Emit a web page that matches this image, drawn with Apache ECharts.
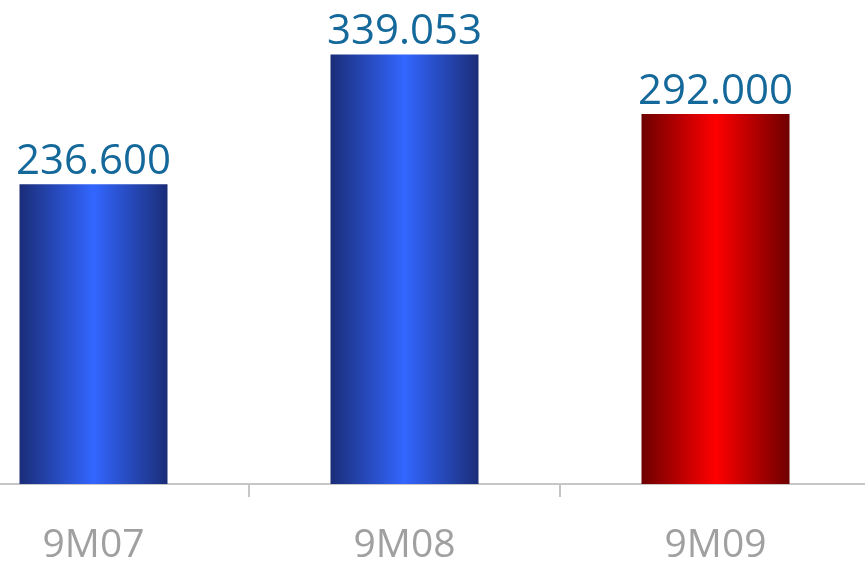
<!DOCTYPE html>
<html>
<head>
<meta charset="utf-8">
<style>
  html, body { margin: 0; padding: 0; background: #ffffff; overflow: hidden; }
  body { width: 865px; height: 565px; position: relative; }
  /* The plot band extends a little past both page edges */
  #chart { position: absolute; left: -62px; top: 0; width: 933px; height: 565px; }
</style>
<script src="https://cdn.jsdelivr.net/npm/echarts@6/dist/echarts.min.js"></script>
</head>
<body>
<div id="chart"></div>
<script>
// Nine-month totals by period
const categories = ['9M07', '9M08', '9M09'];
const values = [236.6, 339.053, 292.0];
const valueLabels = ['236.600', '339.053', '292.000'];

// Horizontal cylinder-like shading for each bar
function shade(edge, mid) {
  return new echarts.graphic.LinearGradient(0, 0, 1, 0, [
    { offset: 0, color: edge },
    { offset: 0.5, color: mid },
    { offset: 1, color: edge }
  ]);
}
const barStyles = [
  shade('#1a2d78', '#3366ff'),
  shade('#1a2d78', '#3366ff'),
  shade('#6e0000', '#ff0000')
];

const chart = echarts.init(document.getElementById('chart'), null, { renderer: 'canvas' });
chart.setOption({
  animation: false,
  backgroundColor: '#ffffff',
  grid: { left: 0, right: 0, top: 0, bottom: 79.5, containLabel: false },
  xAxis: {
    type: 'category',
    data: categories,
    axisLine: { show: true, lineStyle: { color: '#c6c6c6', width: 2 } },
    axisTick: { show: true, length: 13, lineStyle: { color: '#c6c6c6', width: 2 } },
    axisLabel: {
      color: '#a0a0a0',
      fontFamily: 'Open Sans',
      fontSize: 39,
      margin: 42
    }
  },
  yAxis: {
    type: 'value',
    min: 0,
    max: 382,
    show: false,
    splitLine: { show: false }
  },
  series: [{
    type: 'bar',
    barWidth: 148,
    data: values.map((v, i) => ({
      value: v,
      itemStyle: { color: barStyles[i] },
      label: { formatter: valueLabels[i] }
    })),
    label: {
      show: true,
      position: 'top',
      distance: 1,
      color: '#14689a',
      fontFamily: 'Open Sans',
      fontSize: 42
    }
  }]
});
</script>
</body>
</html>
